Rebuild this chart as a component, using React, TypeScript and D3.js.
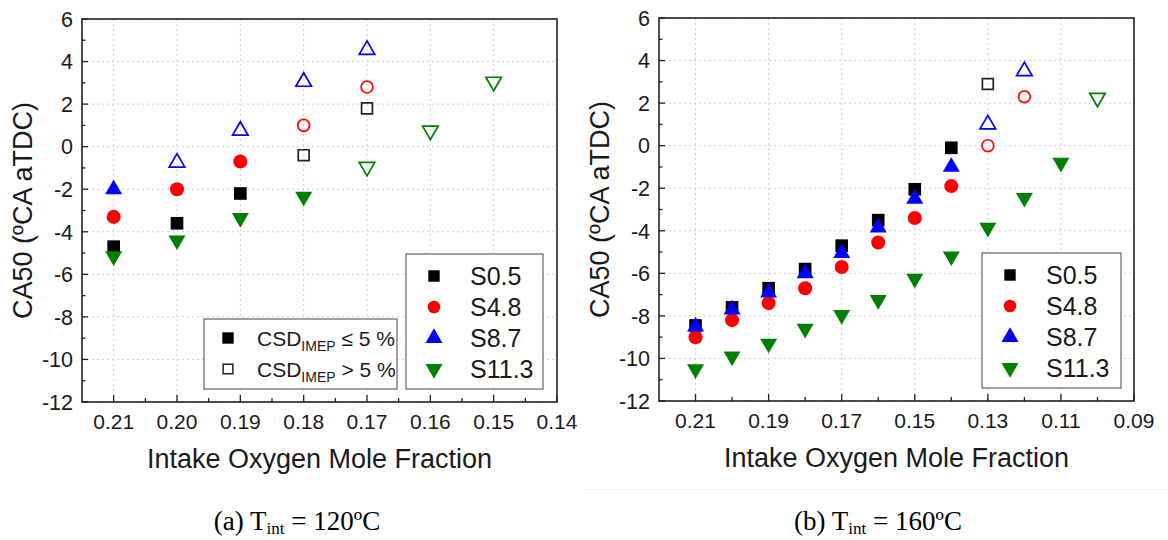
import React from 'react';
import * as d3 from 'd3';

// ---------- shared ----------
const seriesNames = ['S0.5', 'S4.8', 'S8.7', 'S11.3'];
const seriesColors = ['#000000', '#ff0000', '#0000ff', '#008000'];
const seriesShapes = ['square', 'circle', 'triangle', 'triangleDown'];

const yTicks = [-12, -10, -8, -6, -4, -2, 0, 2, 4, 6];
const yMinorTicks = [-11, -9, -7, -5, -3, -1, 1, 3, 5];

// ---------- panel (a) Tint = 120 ºC ----------
const xA = [0.21, 0.2, 0.19, 0.18, 0.17, 0.16, 0.15];
const xTicksA = [0.21, 0.2, 0.19, 0.18, 0.17, 0.16, 0.15, 0.14];
const xMinorA = [0.205, 0.195, 0.185, 0.175, 0.165, 0.155, 0.145];
const aS05 = [-4.7, -3.6, -2.2, -0.4, 1.8, null, null];
const aS48 = [-3.3, -2.0, -0.7, 1.0, 2.8, null, null];
const aS87 = [-2.0, -0.75, 0.75, 3.05, 4.55, null, null];
const aS113 = [-5.15, -4.4, -3.35, -2.35, -0.95, 0.75, 3.05];
const aS05Open = [false, false, false, true, true, false, false];
const aS48Open = [false, false, false, true, true, false, false];
const aS87Open = [false, true, true, true, true, false, false];
const aS113Open = [false, false, false, false, true, true, true];

// ---------- panel (b) Tint = 160 ºC ----------
const xB = [0.21, 0.2, 0.19, 0.18, 0.17, 0.16, 0.15, 0.14, 0.13, 0.12, 0.11, 0.1];
const xTicksB = [0.21, 0.19, 0.17, 0.15, 0.13, 0.11, 0.09];
const xMinorB = [0.2, 0.18, 0.16, 0.14, 0.12, 0.1];
const bS05 = [-8.45, -7.6, -6.7, -5.8, -4.7, -3.5, -2.05, -0.1, 2.9, null, null, null];
const bS48 = [-9.0, -8.2, -7.4, -6.7, -5.7, -4.55, -3.4, -1.9, 0.0, 2.3, null, null];
const bS87 = [-8.5, -7.7, -6.9, -6.0, -5.05, -3.85, -2.5, -1.0, 1.0, 3.5, null, null];
const bS113 = [-10.5, -9.9, -9.3, -8.6, -7.95, -7.25, -6.25, -5.2, -3.85, -2.45, -0.8, 2.25];
const bS05Open = [false, false, false, false, false, false, false, false, true, false, false, false];
const bS48Open = [false, false, false, false, false, false, false, false, true, true, false, false];
const bS87Open = [false, false, false, false, false, false, false, false, true, true, false, false];
const bS113Open = [false, false, false, false, false, false, false, false, false, false, false, true];

const FONT = "'Liberation Sans', Arial, sans-serif";
const SERIF = "'Liberation Serif', 'Times New Roman', serif";

function symbolPath(shape: string, filled: boolean) {
  if (shape === 'square') return d3.symbol().type(d3.symbolSquare).size(filled ? 160 : 118)() as string;
  if (shape === 'circle') return d3.symbol().type(d3.symbolCircle).size(filled ? 155 : 110)() as string;
  return d3.symbol().type(d3.symbolTriangle).size(filled ? 125 : 105)() as string;
}

function Marker({ x, y, shape, color, open }: any) {
  const d = symbolPath(shape, !open);
  const rot = shape === 'triangleDown' ? ' rotate(180)' : '';
  return (
    <path
      d={d}
      transform={`translate(${x},${y})${rot}`}
      fill={open ? 'none' : color}
      stroke={open ? (shape === 'square' ? '#222' : color) : 'none'}
      strokeWidth={open ? 1.7 : 0}
    />
  );
}

function Panel(props: any) {
  const { x0, x1, y0, y1, xDomain, xTicks, xMinor, xs, series, opens, legend, csdLegend } = props;
  const x = d3.scaleLinear().domain(xDomain).range([x0, x1]);
  const y = d3.scaleLinear().domain([-12, 6]).range([y1, y0]);
  const fmt = d3.format('.2f');
  const cx = (x0 + x1) / 2;
  const cy = (y0 + y1) / 2;
  return (
    <g>
      {/* grid */}
      {xTicks.map((t: number) => (
        <line key={'gx' + t} x1={x(t)} x2={x(t)} y1={y0} y2={y1} stroke="#cfcfcf" strokeWidth={1} strokeDasharray="2,3" />
      ))}
      {yTicks.map((t) => (
        <line key={'gy' + t} x1={x0} x2={x1} y1={y(t)} y2={y(t)} stroke="#cfcfcf" strokeWidth={1} strokeDasharray="2,3" />
      ))}
      {/* ticks */}
      {xTicks.map((t: number) => (
        <line key={'tx' + t} x1={x(t)} x2={x(t)} y1={y1} y2={y1 - 7} stroke="#222" strokeWidth={1.3} />
      ))}
      {xMinor.map((t: number) => (
        <line key={'mx' + t} x1={x(t)} x2={x(t)} y1={y1} y2={y1 - 4} stroke="#222" strokeWidth={1.3} />
      ))}
      {yTicks.map((t) => (
        <line key={'ty' + t} x1={x0} x2={x0 + 6} y1={y(t)} y2={y(t)} stroke="#222" strokeWidth={1.3} />
      ))}
      {yMinorTicks.map((t) => (
        <line key={'my' + t} x1={x0} x2={x0 + 3.5} y1={y(t)} y2={y(t)} stroke="#222" strokeWidth={1.3} />
      ))}
      {/* tick labels */}
      {xTicks.map((t: number) => (
        <text key={'lx' + t} x={x(t)} y={y1 + 27} textAnchor="middle" fontFamily={FONT} fontSize={21} fill="#1a1a1a">
          {fmt(t)}
        </text>
      ))}
      {yTicks.map((t) => (
        <text key={'ly' + t} x={x0 - 9} y={y(t)} dy="0.36em" textAnchor="end" fontFamily={FONT} fontSize={21.5} fill="#1a1a1a">
          {t}
        </text>
      ))}
      {/* axis titles */}
      <text x={cx} y={y1 + 66} textAnchor="middle" fontFamily={FONT} fontSize={27} fill="#1a1a1a">
        Intake Oxygen Mole Fraction
      </text>
      <text transform={`translate(${x0 - 50},${cy}) rotate(-90)`} textAnchor="middle" fontFamily={FONT} fontSize={27} fill="#1a1a1a">
        CA50 (ºCA aTDC)
      </text>
      {/* data */}
      {series.map((vals: (number | null)[], si: number) =>
        vals.map((v, i) =>
          v === null ? null : (
            <Marker key={si + '-' + i} x={x(xs[i])} y={y(v)} shape={seriesShapes[si]} color={seriesColors[si]} open={opens[si][i]} />
          )
        )
      )}
      {/* frame */}
      <rect x={x0} y={y0} width={x1 - x0} height={y1 - y0} fill="none" stroke="#222" strokeWidth={1.6} />
      {/* series legend */}
      <g>
        <rect x={legend.x} y={legend.y} width={legend.w} height={legend.h} fill="#fff" stroke="#555" strokeWidth={1.1} />
        {seriesNames.map((n, i) => {
          const ry = legend.y + 22 + i * 31;
          const d = d3.symbol().type(seriesShapes[i] === 'square' ? d3.symbolSquare : seriesShapes[i] === 'circle' ? d3.symbolCircle : d3.symbolTriangle).size(seriesShapes[i] === 'square' ? 130 : 125)() as string;
          return (
            <g key={n}>
              <path d={d} transform={`translate(${legend.x + 28},${ry})${seriesShapes[i] === 'triangleDown' ? ' rotate(180)' : ''}`} fill={seriesColors[i]} />
              <text x={legend.x + 64} y={ry} dy="0.36em" fontFamily={FONT} fontSize={25} fill="#1a1a1a">
                {n}
              </text>
            </g>
          );
        })}
      </g>
      {csdLegend ? (
        <g>
          <rect x={csdLegend.x} y={csdLegend.y} width={csdLegend.w} height={csdLegend.h} fill="#fff" stroke="#555" strokeWidth={1.1} />
          <path d={d3.symbol().type(d3.symbolSquare).size(130)() as string} transform={`translate(${csdLegend.x + 24},${csdLegend.y + 19})`} fill="#000" />
          <path d={d3.symbol().type(d3.symbolSquare).size(95)() as string} transform={`translate(${csdLegend.x + 24},${csdLegend.y + 50})`} fill="none" stroke="#222" strokeWidth={1.5} />
          <text x={csdLegend.x + 53} y={csdLegend.y + 19} dy="0.36em" fontFamily={FONT} fontSize={21} fill="#1a1a1a">
            CSD<tspan fontSize={14} dy="5">IMEP</tspan>
            <tspan dy="-5"> ≤ 5 %</tspan>
          </text>
          <text x={csdLegend.x + 53} y={csdLegend.y + 50} dy="0.36em" fontFamily={FONT} fontSize={21} fill="#1a1a1a">
            CSD<tspan fontSize={14} dy="5">IMEP</tspan>
            <tspan dy="-5"> &gt; 5 %</tspan>
          </text>
        </g>
      ) : null}
    </g>
  );
}

export default function App() {
  return (
    <svg width={1168} height={540} style={{ position: 'absolute', left: 0, top: 0, background: '#fff' }}>
      <rect x={0} y={0} width={1168} height={540} fill="#fff" />
      <line x1={585} x2={1168} y1={489.5} y2={489.5} stroke="#eeeeee" strokeWidth={1} />
      <Panel
        x0={82}
        x1={557}
        y0={19}
        y1={402}
        xDomain={[0.215, 0.14]}
        xTicks={xTicksA}
        xMinor={xMinorA}
        xs={xA}
        series={[aS05, aS48, aS87, aS113]}
        opens={[aS05Open, aS48Open, aS87Open, aS113Open]}
        legend={{ x: 406, y: 254, w: 137, h: 135 }}
        csdLegend={{ x: 204, y: 319, w: 193, h: 70 }}
      />
      <Panel
        x0={659}
        x1={1134}
        y0={18}
        y1={401}
        xDomain={[0.22, 0.09]}
        xTicks={xTicksB}
        xMinor={xMinorB}
        xs={xB}
        series={[bS05, bS48, bS87, bS113]}
        opens={[bS05Open, bS48Open, bS87Open, bS113Open]}
        legend={{ x: 982, y: 253, w: 139, h: 135 }}
        csdLegend={null}
      />
      <text x={297} y={530} textAnchor="middle" fontFamily={SERIF} fontSize={27} fill="#000">
        (a) T<tspan fontSize={17} dy="4">int</tspan>
        <tspan dy="-4"> = 120ºC</tspan>
      </text>
      <text x={878} y={530} textAnchor="middle" fontFamily={SERIF} fontSize={27} fill="#000">
        (b) T<tspan fontSize={17} dy="4">int</tspan>
        <tspan dy="-4"> = 160ºC</tspan>
      </text>
    </svg>
  );
}
